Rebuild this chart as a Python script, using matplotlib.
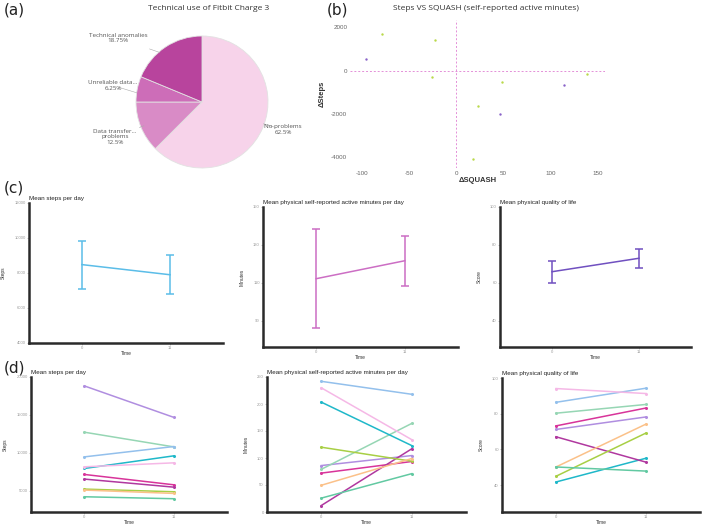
import matplotlib
matplotlib.use('Agg')
import matplotlib.pyplot as plt

W, H = 702, 526

# (a) technical use of the tracker
pie_names = ['No problems', 'Data transfer...\nproblems', 'Unreliable data...', 'Technical anomalies']
pie_values = [62.5, 12.5, 6.25, 18.75]
pie_colors = ['#f7d3ea', '#d98bc6', '#cd6db8', '#b8449d']

# (b) change in steps vs change in SQUASH minutes
squash_green = [-79, -23, -26, 49, 139, 23, 18]
steps_green = [1700, 1400, -300, -510, -180, -1650, -4090]
squash_purple = [-96, 114, 46]
steps_purple = [550, -660, -1980]

# (c) group means with error bars
time_labels = ['0', '11']
steps_mean = [8480, 7900]
steps_err = [1370, 1105]
minutes_mean = [112.1, 121.6]
minutes_err = [26.3, 13.2]
score_mean = [65.8, 72.9]
score_err = [5.8, 5.0]

# (d) individual participants (t0, t1)
person_colors = ['#b08ee0', '#96d6b4', '#93c0ec', '#1fb8c9', '#f5b8e6',
                 '#d8349a', '#b0389f', '#a8cf45', '#fbc189', '#62c9a2']
person_steps = [(18820, 14690), (12720, 10790), (9470, 10830), (7940, 9600), (8160, 8680),
                (7150, 5790), (6540, 5480), (5220, 4870), (5090, 4650), (4210, 3950)]
person_minutes = [(86, 104.5), (79, 164), (242, 218), (203.5, 123), (230, 134),
                  (72, 93.5), (12, 117), (120, 94), (49.5, 99), (25.7, 71)]
person_score = [(71.2, 78.2), (80.3, 85.2), (86.4, 94.3), (41.8, 55.1), (94.1, 91.3),
                (73.2, 83.2), (67.1, 52.9), (45, 69.2), (50.2, 74.2), (50.2, 47.9)]


def px_axes(fig, left, top, right, bottom):
    return fig.add_axes([left / W, 1 - bottom / H, (right - left) / W, (bottom - top) / H])


def style_time_axes(ax, title, ylabel, ylim, yticks):
    """Thick left/bottom spines, tiny ticks, like the original panels"""
    for side in ['top', 'right']:
        ax.spines[side].set_visible(False)
    for side in ['left', 'bottom']:
        ax.spines[side].set_linewidth(1.8)
        ax.spines[side].set_color('#2a2a2a')
    ax.set_xlim(-0.6, 1.6)
    ax.set_ylim(*ylim)
    ax.set_xticks([0, 1])
    ax.set_xticklabels(time_labels)
    ax.set_yticks(yticks)
    ax.tick_params(labelsize=3, colors='#999999', length=1.5, width=0.4, pad=0.8)
    ax.set_title(title, loc='left', fontsize=4.5, pad=2, color='#222222')
    ax.set_ylabel(ylabel, fontsize=3.5, labelpad=6, color='#333333')
    ax.set_xlabel('Time', fontsize=3.5, labelpad=0.5, color='#333333')


plt.rcParams['font.family'] = ['Liberation Sans', 'DejaVu Sans']
plt.rcParams['axes.unicode_minus'] = False
fig = plt.figure(figsize=(W / 100, H / 100), dpi=100)

# ---- (a) pie
ax = px_axes(fig, 102, 2, 302, 202)
ax.pie(pie_values, colors=pie_colors, startangle=90, counterclock=False,
       wedgeprops=dict(edgecolor='#e2e2e2', linewidth=0.6))
lim = 100 / 66
ax.set_xlim(-lim, lim)
ax.set_ylim(-lim, lim)
ax.axis('off')
label_pos = [(1.23, -0.42), (-1.32, -0.53), (-1.35, 0.25), (-1.27, 0.97)]
edge_pos = [(0.93, -0.33), (-0.88, -0.36), (-0.99, 0.14), (-0.64, 0.75)]
for name, val, lp, ep in zip(pie_names, pie_values, label_pos, edge_pos):
    ax.annotate(f'{name}\n{val:g}%', xy=ep, xytext=lp, ha='center', va='center',
                fontsize=4.5, color='#555555', family=['Open Sans', 'DejaVu Sans'],
                annotation_clip=False,
                arrowprops=dict(arrowstyle='-', color='#aaaaaa', lw=0.4, shrinkA=6, shrinkB=0))
fig.text(209 / W, 1 - 8 / H, 'Technical use of Fitbit Charge 3', ha='center', va='center',
         fontsize=6, color='#333333', family=['Open Sans', 'DejaVu Sans'])

# ---- (b) scatter
ax = px_axes(fig, 350, 20, 605, 168)
ax.axhline(0, color='#e48fd8', lw=0.7, ls=(0, (2, 2)))
ax.axvline(0, color='#e48fd8', lw=0.7, ls=(0, (2, 2)))
ax.scatter(squash_green, steps_green, s=3, color='#b9d94a', zorder=3, linewidths=0)
ax.scatter(squash_purple, steps_purple, s=3, color='#8a63c8', zorder=3, linewidths=0)
ax.set_xlim(-113, 158)
ax.set_ylim(-4483, 2322)
ax.set_xticks([-100, -50, 0, 50, 100, 150])
ax.set_yticks([-4000, -2000, 0, 2000])
for s in ax.spines.values():
    s.set_visible(False)
ax.tick_params(length=0, labelsize=4.5, colors='#666666', pad=2)
ax.set_xlabel('ΔSQUASH', fontsize=5.5, labelpad=1, color='#333333', fontweight='bold')
ax.set_ylabel('ΔSteps', fontsize=5.5, labelpad=4, color='#333333', fontweight='bold')
fig.text(486 / W, 1 - 8 / H, 'Steps VS SQUASH (self-reported active minutes)', ha='center',
         va='center', fontsize=6, color='#333333', family=['Open Sans', 'DejaVu Sans'])

# ---- (c) means with error bars
c_specs = [
    ((29, 203, 223, 343), steps_mean, steps_err, '#5bbde8', 'Mean steps per day', 'Steps',
     (4000, 12000), [4000, 6000, 8000, 10000, 12000]),
    ((263, 207, 458, 347), minutes_mean, minutes_err, '#cc6ec4',
     'Mean physical self-reported active minutes per day', 'Minutes', (76, 150), [90, 110, 130, 150]),
    ((500, 207, 691, 347), score_mean, score_err, '#7050c0', 'Mean physical quality of life', 'Score',
     (26, 100), [40, 60, 80, 100]),
]
for box, mean, err, col, title, ylab, ylim, yticks in c_specs:
    ax = px_axes(fig, *box)
    ax.errorbar([0, 1], mean, yerr=err, color=col, lw=1.1, capsize=3, capthick=1.1, elinewidth=1.1)
    style_time_axes(ax, title, ylab, ylim, yticks)

# ---- (d) individual lines
d_specs = [
    ((31, 377, 227, 512), person_steps, 'Mean steps per day', 'Steps',
     (2200, 20000), [5000, 10000, 15000, 20000]),
    ((267, 377, 466, 512), person_minutes, 'Mean physical self-reported active minutes per day', 'Minutes',
     (0, 250), [0, 50, 100, 150, 200, 250]),
    ((502, 378, 700, 512), person_score, 'Mean physical quality of life', 'Score',
     (25, 100), [40, 60, 80, 100]),
]
for box, data, title, ylab, ylim, yticks in d_specs:
    ax = px_axes(fig, *box)
    for (y0, y1), col in zip(data, person_colors):
        ax.plot([0, 1], [y0, y1], color=col, lw=1.1, marker='o', markersize=1.2)
    style_time_axes(ax, title, ylab, ylim, yticks)

# panel letters
for txt, x, y in [('(a)', 4, 10), ('(b)', 327, 10), ('(c)', 4, 188), ('(d)', 4, 368)]:
    fig.text(x / W, 1 - y / H, txt, fontsize=11, va='center', ha='left', color='#222222',
             family=['DejaVu Sans'])

fig.savefig('out.png', dpi=100)
